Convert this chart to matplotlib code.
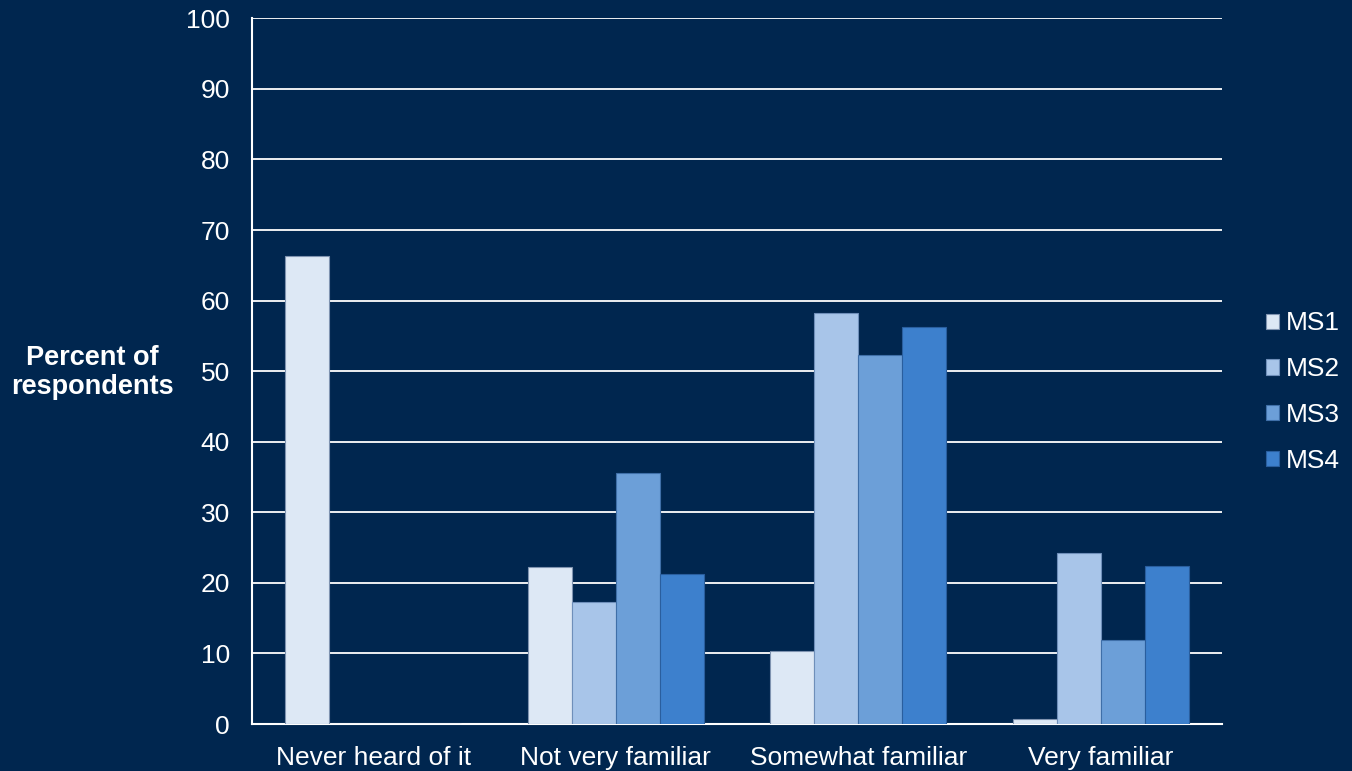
import numpy as np
import matplotlib.pyplot as plt

plt.rcParams['font.family'] = ['Liberation Sans', 'DejaVu Sans']

# survey answers, percent of respondents per wave
categories = ["Never heard of it", "Not very familiar", "Somewhat familiar", "Very familiar"]
series = ["MS1", "MS2", "MS3", "MS4"]
ms1 = [66.3, 22.3, 10.3, 0.7]
ms2 = [0.0, 17.3, 58.2, 24.2]
ms3 = [0.0, 35.6, 52.3, 11.9]
ms4 = [0.0, 21.2, 56.2, 22.4]
values = [ms1, ms2, ms3, ms4]

bg = "#00264f"
colors = ["#dde8f5", "#a8c5e9", "#6c9fd8", "#3d80cd"]
edges = ["#7f93b0", "#6f8fba", "#3f6fa8", "#2a5e9e"]

fig = plt.figure(figsize=(13.52, 7.71), dpi=100, facecolor=bg)
ax = fig.add_axes([252 / 1352, 47 / 771, 970 / 1352, 705.7 / 771], facecolor=bg)

x = np.arange(len(categories))
w = 0.181
for i, (name, vals) in enumerate(zip(series, values)):
    ax.bar(x + (i - 1.5) * w, vals, width=w, color=colors[i], edgecolor=edges[i],
           linewidth=0.8, label=name, zorder=3)

ax.set_xlim(-0.5, len(categories) - 0.5)
ax.set_ylim(0, 100)
ax.set_yticks(range(0, 101, 10))
ax.yaxis.grid(True, color="white", linewidth=1.3, zorder=1)
ax.set_axisbelow(True)

for s in ["top", "right"]:
    ax.spines[s].set_visible(False)
ax.spines["left"].set_color("white")
ax.spines["left"].set_linewidth(1.5)
ax.spines["bottom"].set_color("white")
ax.spines["bottom"].set_linewidth(1.5)

ax.set_xticks(x)
ax.set_xticklabels(categories)
ax.tick_params(axis="both", length=0, colors="white", labelsize=19)
ax.tick_params(axis="y", pad=16)
ax.tick_params(axis="x", pad=16)

fig.text(92 / 1352, 1 - 372 / 771, "Percent of\nrespondents", color="white",
         fontsize=19.5, fontweight="bold", ha="center", va="center", linespacing=1.15)

leg = ax.legend(loc="center left", bbox_to_anchor=(1.021, 0.47), frameon=False,
                fontsize=19, labelcolor="white", handlelength=0.5, handleheight=0.5,
                handletextpad=0.23, labelspacing=0.83)

fig.savefig("out.png", dpi=100, facecolor=bg)
